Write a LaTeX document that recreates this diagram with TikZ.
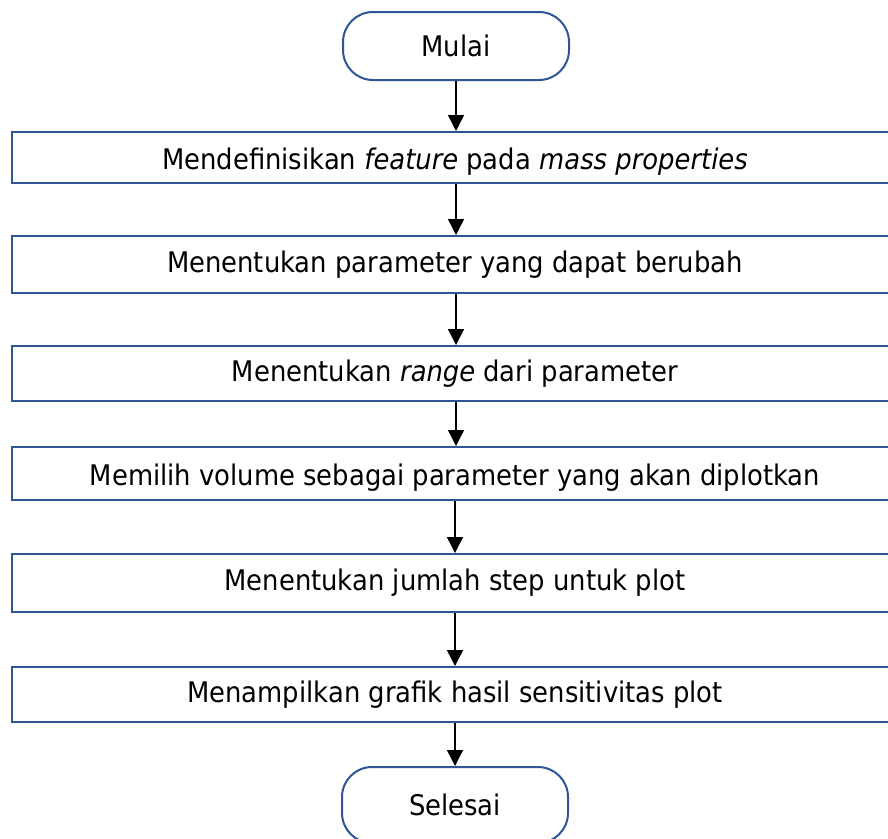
\documentclass[tikz,border=0pt]{standalone}
\usepackage{fontspec}
\setmainfont{DejaVu Sans}[FakeStretch=0.91]
\usetikzlibrary{arrows.meta}
\definecolor{boxblue}{RGB}{47,85,151}
\newcommand{\FlowFont}{\fontsize{28.4}{34}\selectfont}
\newcommand{\LowText}[1]{\raisebox{-4pt}[\height][\depth]{#1}}
\tikzset{
  stepbox/.style={draw=boxblue, line width=2pt, minimum width=886pt, inner sep=0pt, font=\FlowFont},
  termbox/.style={draw=boxblue, line width=2pt, rounded corners=30pt, minimum width=226pt, inner sep=0pt, font=\FlowFont},
  flow/.style={line width=1.4pt, -{Triangle[width=16pt,length=16pt]}}
}
\begin{document}
\begin{tikzpicture}[x=1pt,y=-1pt]
    \useasboundingbox (0,0) rectangle (888,838);
    \clip (0,0) rectangle (888,838);
    \node[termbox, minimum height=68pt] (start) at (456,46) {Mulai};
    \node[stepbox, minimum height=51pt] (b1) at (455,157.5) {\LowText{Mendefinisikan \textit{feature} pada \textit{mass properties}}};
    \node[stepbox, minimum height=57pt] (b2) at (455,264.5) {Menentukan parameter yang dapat berubah};
    \node[stepbox, minimum height=55pt] (b3) at (455,373.5) {Menentukan \textit{range} dari parameter};
    \node[stepbox, minimum height=53pt] (b4) at (455,473.5) {\LowText{Memilih volume sebagai parameter yang akan diplotkan}};
    \node[stepbox, minimum height=58pt] (b5) at (455,583) {Menentukan jumlah step untuk plot};
    \node[stepbox, minimum height=55pt] (b6) at (455,694.5) {Menampilkan grafik hasil sensitivitas plot};
    \node[termbox, minimum height=76pt] (stop) at (455,805) {Selesai};
    \draw[flow] (start.south) -- (start.south |- b1.north);
    \draw[flow] (b1.south -| start) -- (b2.north -| start);
    \draw[flow] (b2.south -| start) -- (b3.north -| start);
    \draw[flow] (b3.south -| start) -- (b4.north -| start);
    \draw[flow] (b4.south -| stop) -- (b5.north -| stop);
    \draw[flow] (b5.south -| stop) -- (b6.north -| stop);
    \draw[flow] (b6.south -| stop) -- (stop.north);
\end{tikzpicture}
\end{document}
